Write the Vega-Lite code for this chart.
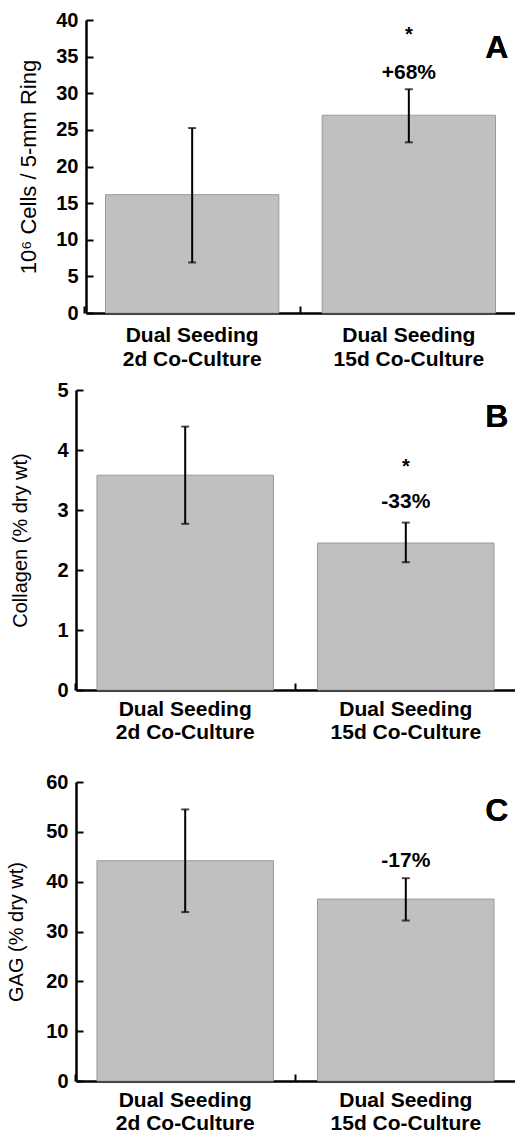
{
  "$schema": "https://vega.github.io/schema/vega-lite/v6.json",
  "padding": {"top": 10, "left": 6, "right": 0, "bottom": 0},
  "spacing": 30,
  "config": {
    "font": "Liberation Sans",
    "view": {"stroke": null},
    "axis": {
      "domainColor": "black", "domainWidth": 2.5, "tickColor": "black", "tickWidth": 2,
      "labelColor": "black", "labelFont": "Liberation Sans", "labelFontWeight": "bold", "labelFontSize": 20,
      "titleColor": "black", "titleFont": "Liberation Sans", "titleFontWeight": "normal", "titleFontSize": 20,
      "grid": false
    },
    "axisX": {"labelAngle": 0, "title": null, "tickSize": -7, "bandPosition": -0.124, "labelFontSize": 21, "labelPadding": 15, "labelLineHeight": 23, "labelExpr": "split(datum.label, '|')"},
    "axisY": {"tickSize": -7, "labelPadding": 15}
  },
  "vconcat": [
    {
      "spacing": 11,
      "vconcat": [
        {
          "width": 439, "height": 293,
          "data": {"values": [
            {"cond": "Dual Seeding|2d Co-Culture", "mean": 16.15, "lo": 6.9, "hi": 25.25, "star": "", "pct": ""},
            {"cond": "Dual Seeding|15d Co-Culture", "mean": 27.0, "lo": 23.3, "hi": 30.55, "star": "*", "pct": "+68%"}
          ]},
          "encoding": {
            "x": {"field": "cond", "type": "nominal", "sort": null, "scale": {"range": [10, 439], "paddingInner": 0.2, "paddingOuter": 0.09}, "axis": {"labelPadding": 18, "labelLineHeight": 24}},
            "y": {"type": "quantitative", "scale": {"domain": [0, 40], "nice": false}, "axis": {"title": "10⁶ Cells / 5-mm Ring", "titleFontSize": 22, "values": [0,5,10,15,20,25,30,35,40], "offset": -10, "titlePadding": 15}}
          },
          "layer": [
            {"mark": {"type": "bar", "fill": "#c0c0c0", "stroke": "#9a9a9a", "strokeWidth": 1}, "encoding": {"y": {"field": "mean", "type": "quantitative"}}},
            {"mark": {"type": "rule", "color": "black", "strokeWidth": 2}, "encoding": {"y": {"field": "lo", "type": "quantitative"}, "y2": {"field": "hi"}}},
            {"mark": {"type": "tick", "color": "black", "size": 8, "thickness": 2}, "encoding": {"y": {"field": "lo", "type": "quantitative"}}},
            {"mark": {"type": "tick", "color": "black", "size": 8, "thickness": 2}, "encoding": {"y": {"field": "hi", "type": "quantitative"}}},
            {"mark": {"type": "text", "fontSize": 20, "fontWeight": "bold", "baseline": "middle"}, "encoding": {"y": {"datum": 38.0}, "text": {"field": "star"}}},
            {"mark": {"type": "text", "fontSize": 21, "fontWeight": "bold", "baseline": "middle"}, "encoding": {"y": {"datum": 32.8}, "text": {"field": "pct"}}},
            {"mark": {"type": "text", "fontSize": 32, "fontWeight": "bold", "baseline": "middle", "dx": 88, "text": "A"}, "encoding": {"x": {"datum": "Dual Seeding|15d Co-Culture"}, "y": {"datum": 36.2}}}
          ]
        },
        {
          "width": 439, "height": 300,
          "data": {"values": [
            {"cond": "Dual Seeding|2d Co-Culture", "mean": 3.58, "lo": 2.77, "hi": 4.39, "star": "", "pct": ""},
            {"cond": "Dual Seeding|15d Co-Culture", "mean": 2.45, "lo": 2.13, "hi": 2.79, "star": "*", "pct": "-33%"}
          ]},
          "encoding": {
            "x": {"field": "cond", "type": "nominal", "sort": null, "scale": {"paddingInner": 0.2, "paddingOuter": 0.095}},
            "y": {"type": "quantitative", "scale": {"domain": [0, 5], "nice": false}, "axis": {"title": "Collagen (% dry wt)", "values": [0,1,2,3,4,5], "titlePadding": 26}}
          },
          "layer": [
            {"mark": {"type": "bar", "fill": "#c0c0c0", "stroke": "#9a9a9a", "strokeWidth": 1}, "encoding": {"y": {"field": "mean", "type": "quantitative"}}},
            {"mark": {"type": "rule", "color": "black", "strokeWidth": 2}, "encoding": {"y": {"field": "lo", "type": "quantitative"}, "y2": {"field": "hi"}}},
            {"mark": {"type": "tick", "color": "black", "size": 8, "thickness": 2}, "encoding": {"y": {"field": "lo", "type": "quantitative"}}},
            {"mark": {"type": "tick", "color": "black", "size": 8, "thickness": 2}, "encoding": {"y": {"field": "hi", "type": "quantitative"}}},
            {"mark": {"type": "text", "fontSize": 20, "fontWeight": "bold", "baseline": "middle"}, "encoding": {"y": {"datum": 3.72}, "text": {"field": "star"}}},
            {"mark": {"type": "text", "fontSize": 21, "fontWeight": "bold", "baseline": "middle"}, "encoding": {"y": {"datum": 3.13}, "text": {"field": "pct"}}},
            {"mark": {"type": "text", "fontSize": 32, "fontWeight": "bold", "baseline": "middle", "dx": 91, "text": "B"}, "encoding": {"x": {"datum": "Dual Seeding|15d Co-Culture"}, "y": {"datum": 4.55}}}
          ]
        }
      ]
    },
    {
      "width": 439, "height": 299,
      "data": {"values": [
        {"cond": "Dual Seeding|2d Co-Culture", "mean": 44.2, "lo": 33.9, "hi": 54.5, "pct": ""},
        {"cond": "Dual Seeding|15d Co-Culture", "mean": 36.5, "lo": 32.2, "hi": 40.7, "pct": "-17%"}
      ]},
      "encoding": {
        "x": {"field": "cond", "type": "nominal", "sort": null, "scale": {"paddingInner": 0.2, "paddingOuter": 0.095}},
        "y": {"type": "quantitative", "scale": {"domain": [0, 60], "nice": false}, "axis": {"title": "GAG (% dry wt)", "values": [0,10,20,30,40,50,60], "titlePadding": 19}}
      },
      "layer": [
        {"mark": {"type": "bar", "fill": "#c0c0c0", "stroke": "#9a9a9a", "strokeWidth": 1}, "encoding": {"y": {"field": "mean", "type": "quantitative"}}},
        {"mark": {"type": "rule", "color": "black", "strokeWidth": 2}, "encoding": {"y": {"field": "lo", "type": "quantitative"}, "y2": {"field": "hi"}}},
        {"mark": {"type": "tick", "color": "black", "size": 8, "thickness": 2}, "encoding": {"y": {"field": "lo", "type": "quantitative"}}},
        {"mark": {"type": "tick", "color": "black", "size": 8, "thickness": 2}, "encoding": {"y": {"field": "hi", "type": "quantitative"}}},
        {"mark": {"type": "text", "fontSize": 21, "fontWeight": "bold", "baseline": "middle"}, "encoding": {"y": {"datum": 44.2}, "text": {"field": "pct"}}},
        {"mark": {"type": "text", "fontSize": 32, "fontWeight": "bold", "baseline": "middle", "dx": 91, "text": "C"}, "encoding": {"x": {"datum": "Dual Seeding|15d Co-Culture"}, "y": {"datum": 54.2}}}
      ]
    }
  ]
}
